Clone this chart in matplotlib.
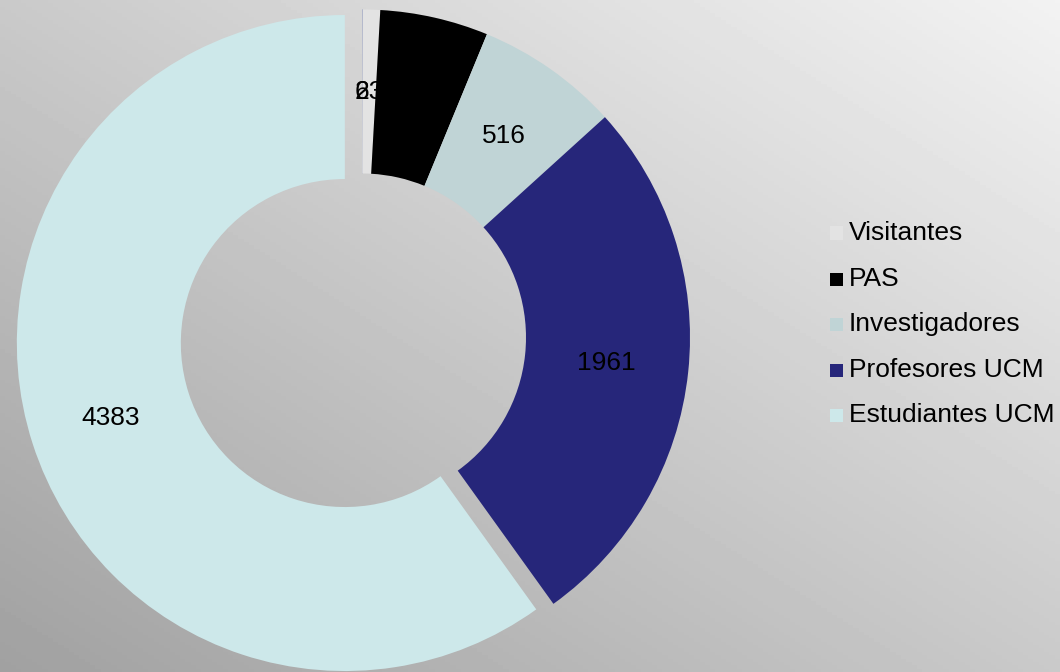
#!/usr/bin/env python3

import numpy as np
import matplotlib
matplotlib.use('Agg')
import matplotlib.pyplot as plt
from matplotlib.patches import Rectangle

plt.rcParams['font.family'] = ['Liberation Sans', 'DejaVu Sans']

# ------------------------------------------------------------
# data
# ------------------------------------------------------------
categories = ['', 'Visitantes', 'PAS', 'Investigadores', 'Profesores UCM', 'Estudiantes UCM']
values = [2, 63, 390, 516, 1961, 4383]
colors = ['#4f5fa0', '#e3e3e3', '#000000', '#c0d4d6', '#26267a', '#cde8ea']
explode = [0, 0, 0, 0, 0, 0.055]

W, H = 1060, 672
fig = plt.figure(figsize=(W / 100, H / 100), dpi=100)

# background gradient (dark bottom-left -> light top-right)
bg = fig.add_axes([0, 0, 1, 1], zorder=-10)
xx, yy = np.meshgrid(np.linspace(0, 1, 200), np.linspace(1, 0, 200))
grad = 0.63 + 0.16 * xx + 0.16 * yy
bg.imshow(grad, cmap='gray', vmin=0, vmax=1, aspect='auto', extent=[0, 1, 0, 1])
bg.axis('off')

# donut, centre (362, 337.5) px, radius 328 px
cx, cy, r = 362, 337.5, 328
ax = fig.add_axes([(cx - r) / W, (H - cy - r) / H, 2 * r / W, 2 * r / H])
ax.patch.set_alpha(0)
wedges, _ = ax.pie(values, colors=colors, explode=explode, startangle=90,
                   counterclock=False, radius=1.0,
                   wedgeprops=dict(width=0.5, edgecolor='none', linewidth=0))
for w in wedges:
    w.set_clip_on(False)
ax.set_xlim(-1, 1)
ax.set_ylim(-1, 1)
ax.axis('off')

# data labels in the middle of the ring
total = float(sum(values))
start = 0.0
for i, v in enumerate(values):
    mid = start + v / 2.0
    ang = np.radians(90 - mid / total * 360)
    dx, dy = 0, 0
    if explode[i]:
        dx = explode[i] * np.cos(ang)
        dy = explode[i] * np.sin(ang)
    txt_color = 'black'
    ax.text(0.75 * np.cos(ang) + dx, 0.75 * np.sin(ang) + dy, str(v),
            ha='center', va='center', fontsize=19, color=txt_color, clip_on=False)
    start += v

# legend
leg_y = [233, 279, 324, 370, 415]
for name, col, y in zip(categories[1:], colors[1:], leg_y):
    fig.patches.append(Rectangle((830 / W, (H - y - 6.5) / H), 13 / W, 13 / H,
                                 transform=fig.transFigure, facecolor=col,
                                 edgecolor='none'))
    fig.text(849 / W, (H - y) / H, name, fontsize=19, va='center', ha='left')

plt.savefig('out.png', dpi=100)
